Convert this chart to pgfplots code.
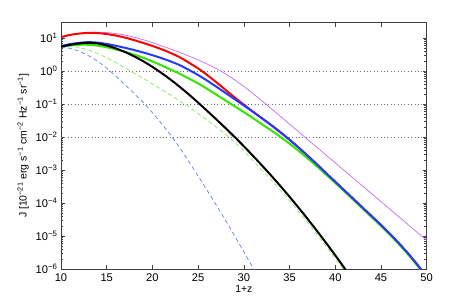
\documentclass[border=0pt]{standalone}
\usepackage{pgfplots}
\pgfplotsset{compat=1.18}
\usepackage{pgfplotstable}
\usepackage{fontspec}
\setmainfont{Liberation Sans}
\definecolor{cblue}{RGB}{35,60,250}
\definecolor{cgreen}{RGB}{50,230,0}
\definecolor{cpurple}{RGB}{195,105,250}
\definecolor{cbluedash}{RGB}{95,125,250}
\definecolor{cgreendash}{RGB}{135,230,95}
\definecolor{axgray}{RGB}{64,64,64}
% log10 of J
\pgfplotstableread{
x    p       r       b       g       k       gd      bd
10   1.05    1.03    0.76    0.74    0.74    0.78    0.74
11   1.11    1.10    0.82    0.78    0.80    0.76    0.69
12   1.15    1.14    0.86    0.80    0.84    0.715   0.60
13   1.17    1.16    0.88    0.80    0.86    0.64    0.47
14   1.18    1.155   0.865   0.775   0.84    0.535   0.30
15   1.17    1.125   0.825   0.725   0.78    0.405   0.09
16   1.14    1.08    0.77    0.66    0.69    0.26   -0.15
17   1.093   1.018   0.708   0.588   0.58    0.105  -0.41
18   1.03    0.94    0.64    0.50    0.45   -0.058  -0.68
19   0.953   0.856   0.566   0.406   0.30   -0.223  -0.95
20   0.865   0.765   0.485   0.295   0.13   -0.388  -1.26
21   0.77    0.665   0.395   0.175  -0.058  -0.555  -1.59
22   0.67    0.55    0.295   0.045  -0.26   -0.728  -1.94
23   0.565   0.42    0.18   -0.08   -0.478  -0.905  -2.33
24   0.455   0.255   0.035  -0.225  -0.71   -1.09   -2.75
25   0.34    0.082  -0.118  -0.373  -0.955  -1.285  -3.18
26   0.215  -0.12   -0.29   -0.54   -1.208  -1.49   -3.62
27   0.075  -0.339  -0.474  -0.714  -1.465  -1.70   -4.07
28  -0.085  -0.567  -0.662  -0.892  -1.728  -1.92   -4.53
29  -0.265  -0.797  -0.852  -1.067  -1.998  -2.16   -5.00
30  -0.465  -1.017  -1.042  -1.242  -2.278  -2.42   -5.48
31  -0.68   -1.227  -1.235  -1.425  -2.568  -2.71   -5.97
32  -0.905  -1.433  -1.433  -1.613  -2.865  -3.00   -6.47
33  -1.137  -1.638  -1.638  -1.798  -3.17   -3.30   -6.98
34  -1.372  -1.853  -1.853  -1.993  -3.485  -3.61   -7.50
35  -1.607  -2.081  -2.081  -2.201  -3.81   -3.93   -8.00
36  -1.842  -2.321  -2.321  -2.421  -4.145  -4.26   -8.50
37  -2.077  -2.571  -2.571  -2.651  -4.49   -4.60   -9.00
38  -2.312  -2.829  -2.829  -2.889  -4.845  -4.95   -9.50
39  -2.547  -3.094  -3.094  -3.139  -5.21   -5.31   -10.0
40  -2.782  -3.356  -3.356  -3.391  -5.585  -5.68   -10.5
41  -3.017  -3.618  -3.618  -3.648  -5.97   -6.06   -11.0
42  -3.252  -3.88   -3.88   -3.91   -6.36   -6.45   -11.5
43  -3.487  -4.142  -4.142  -4.172  -6.76   -6.85   -12.0
44  -3.722  -4.404  -4.404  -4.434  -7.16   -7.25   -12.5
45  -3.957  -4.666  -4.666  -4.696  -7.56   -7.65   -13.0
46  -4.192  -4.941  -4.941  -4.971  -7.96   -8.05   -13.5
47  -4.427  -5.231  -5.231  -5.261  -8.36   -8.45   -14.0
48  -4.662  -5.541  -5.541  -5.571  -8.76   -8.85   -14.5
49  -4.897  -5.876  -5.876  -5.906  -9.16   -9.25   -15.0
50  -5.132  -6.236  -6.236  -6.266  -9.56   -9.65   -15.5
}\datatab
\begin{document}
\begin{tikzpicture}
\begin{axis}[
  scale only axis,
  width=365.7bp, height=246.3bp,
  ymode=log,
  xmin=10, xmax=50, ymin=1e-6, ymax=29.5,
  xtick={10,15,20,25,30,35,40,45,50},
  ytick={1e-6,1e-5,1e-4,1e-3,1e-2,1e-1,1,10},
  yticklabels={10\textsuperscript{−6},10\textsuperscript{−5},10\textsuperscript{−4},10\textsuperscript{−3},10\textsuperscript{−2},10\textsuperscript{−1},10\textsuperscript{0},10\textsuperscript{1}},
  xticklabels={10,15,20,25,30,35,40,45,50},
  tick align=inside,
  major tick length=4bp, minor tick length=2.2bp,
  axis line style={axgray, line width=0.6pt},
  every tick/.style={axgray, line width=0.5pt},
  tick label style={font=\fontsize{11.2}{13}\selectfont, text=black},
  xticklabel style={yshift=-1bp},
  label style={font=\fontsize{10.5}{12}\selectfont},
  xlabel={1+z},
  ylabel={J [10\textsuperscript{−21} erg s\textsuperscript{−1} cm\textsuperscript{−2} Hz\textsuperscript{−1} sr\textsuperscript{−1}]},
  xlabel style={yshift=3bp},
  extra y ticks={1e-2,1e-1,1},
  extra y tick labels={},
  extra y tick style={grid=major, major grid style={black!55, dash pattern=on 0.8bp off 2.6bp, line width=0.6pt}, major tick length=0pt},
  clip=true,
  every axis plot/.append style={smooth, tension=0.5},
]
\addplot[cpurple, line width=0.7pt] table[x=x, y expr=10^(\thisrow{p})] {\datatab};
\addplot[cbluedash, line width=0.7pt, dash pattern=on 4bp off 3bp] table[x=x, y expr=10^(\thisrow{bd})] {\datatab};
\addplot[cgreendash, line width=0.7pt, dash pattern=on 4bp off 3bp] table[x=x, y expr=10^(\thisrow{gd})] {\datatab};
\addplot[red, line width=2pt] table[x=x, y expr=10^(\thisrow{r})] {\datatab};
\addplot[cgreen, line width=2pt] table[x=x, y expr=10^(\thisrow{g})] {\datatab};
\addplot[cblue, line width=2pt] table[x=x, y expr=10^(\thisrow{b})] {\datatab};
\addplot[black, line width=2pt] table[x=x, y expr=10^(\thisrow{k})] {\datatab};
\end{axis}
\path (-61bp,-34bp) rectangle (410bp,269bp);
\end{tikzpicture}
\end{document}
